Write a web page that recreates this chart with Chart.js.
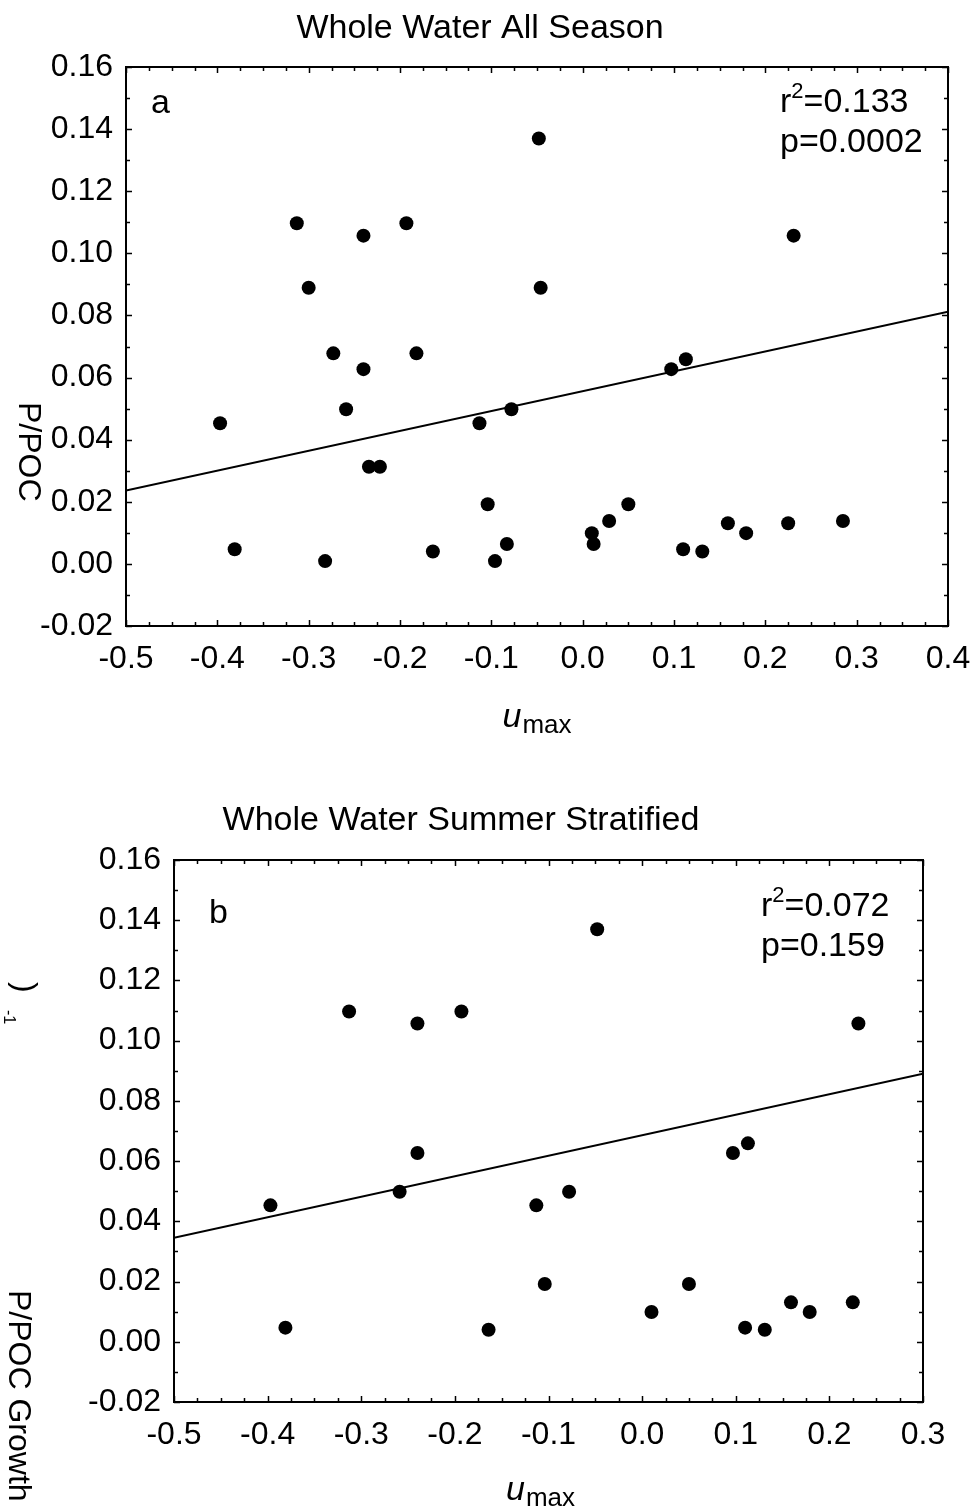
<!DOCTYPE html>
<html>
<head>
<meta charset="utf-8">
<script src="https://cdn.jsdelivr.net/npm/chart.js@4/dist/chart.umd.min.js"></script>
<style>
  html, body { margin: 0; padding: 0; background: #fff; }
  #wrap { width: 975px; height: 1510px; position: relative; overflow: hidden; background: #fff; }
  canvas { position: absolute; left: 0; }
</style>
</head>
<body>
<div id="wrap">
  <canvas id="panelA" width="975" height="755" style="top:0"></canvas>
  <canvas id="panelB" width="975" height="755" style="top:755px"></canvas>
</div>
<script>
// ---- Panel a: whole water column, all seasons ----
const umaxAll = [-0.397, -0.381, -0.313, -0.300, -0.282, -0.273, -0.259, -0.240, -0.240, -0.234,
                 -0.222, -0.193, -0.182, -0.164, -0.113, -0.104, -0.096, -0.083, -0.078, -0.048,
                 -0.046, 0.010, 0.012, 0.029, 0.050, 0.097, 0.110, 0.113, 0.131, 0.159,
                 0.179, 0.225, 0.231, 0.285];
const ppocAll = [0.0453, 0.0047, 0.1097, 0.0889, 0.0009, 0.0678, 0.0498, 0.1057, 0.0627, 0.0313,
                 0.0313, 0.1097, 0.0678, 0.0040, 0.0453, 0.0192, 0.0009, 0.0064, 0.0498, 0.1370,
                 0.0889, 0.0099, 0.0064, 0.0138, 0.0192, 0.0627, 0.0047, 0.0659, 0.0040, 0.0131,
                 0.0099, 0.0131, 0.1057, 0.0138];
const fitAllX = [-0.5, 0.4];
const fitAllY = [0.0236, 0.0812];
const xTicksAll = [-0.5, -0.4, -0.3, -0.2, -0.1, 0.0, 0.1, 0.2, 0.3, 0.4];
const xLabelsAll = ['-0.5', '-0.4', '-0.3', '-0.2', '-0.1', '0.0', '0.1', '0.2', '0.3', '0.4'];

// ---- Panel b: whole water column, summer stratified ----
const umaxSummer = [-0.397, -0.381, -0.313, -0.259, -0.240, -0.240, -0.193, -0.164, -0.113, -0.104,
                    -0.078, -0.048, 0.010, 0.050, 0.097, 0.110, 0.113, 0.131, 0.159, 0.179,
                    0.225, 0.231];
const ppocSummer = [0.0453, 0.0047, 0.1097, 0.0498, 0.1057, 0.0627, 0.1097, 0.0040, 0.0453, 0.0192,
                    0.0498, 0.1370, 0.0099, 0.0192, 0.0627, 0.0047, 0.0659, 0.0040, 0.0131, 0.0099,
                    0.0131, 0.1057];
const fitSummerX = [-0.5, 0.3];
const fitSummerY = [0.0345, 0.0890];
const xTicksSummer = [-0.5, -0.4, -0.3, -0.2, -0.1, 0.0, 0.1, 0.2, 0.3];
const xLabelsSummer = ['-0.5', '-0.4', '-0.3', '-0.2', '-0.1', '0.0', '0.1', '0.2', '0.3'];

// shared y axis
const yTicks = [-0.02, 0.00, 0.02, 0.04, 0.06, 0.08, 0.10, 0.12, 0.14, 0.16];
const yLabels = ['-0.02', '0.00', '0.02', '0.04', '0.06', '0.08', '0.10', '0.12', '0.14', '0.16'];

const FONT = "'Liberation Sans', Arial, Helvetica, sans-serif";

function toPoints(xs, ys) { return xs.map((x, i) => ({ x: x, y: ys[i] })); }

// fixed axis box size; label overhang is absorbed by the layout padding
function fixBox(s, w, h) {
  if (w !== null) s.width = w;
  if (h !== null) s.height = h;
  s.paddingLeft = 0; s.paddingRight = 0; s.paddingTop = 0; s.paddingBottom = 0;
}

// Frame, inward tick marks and all free text of a panel
const panelDecor = {
  id: 'panelDecor',
  afterDraw(chart, args, o) {
    const ctx = chart.ctx;
    const a = chart.chartArea;
    const xs = chart.scales.x, ys = chart.scales.y;
    ctx.save();
    ctx.strokeStyle = '#000';
    ctx.fillStyle = '#000';

    // inward ticks on all four sides
    ctx.lineWidth = 1.5;
    ctx.beginPath();
    const nx = Math.round((o.xMax - o.xMin) / o.xMinor);
    for (let k = 0; k <= nx; k++) {
      const v = o.xMin + k * o.xMinor;
      const len = (k % o.xMajorEvery === 0) ? 6 : 4;
      const px = Math.round(xs.getPixelForValue(v)) + 0.5;
      ctx.moveTo(px, a.bottom); ctx.lineTo(px, a.bottom - len);
      ctx.moveTo(px, a.top); ctx.lineTo(px, a.top + len);
    }
    const ny = Math.round((o.yMax - o.yMin) / o.yMinor);
    for (let k = 0; k <= ny; k++) {
      const v = o.yMin + k * o.yMinor;
      const len = (k % o.yMajorEvery === 0) ? 6 : 4;
      const py = Math.round(ys.getPixelForValue(v)) + 0.5;
      ctx.moveTo(a.left, py); ctx.lineTo(a.left + len, py);
      ctx.moveTo(a.right, py); ctx.lineTo(a.right - len, py);
    }
    ctx.stroke();

    // plot frame
    ctx.lineWidth = 2;
    ctx.strokeRect(a.left, a.top, a.right - a.left, a.bottom - a.top);

    // title
    ctx.textBaseline = 'alphabetic';
    ctx.textAlign = 'center';
    ctx.font = '34px ' + FONT;
    ctx.fillText(o.title, o.titleX, o.titleY);

    // panel letter
    ctx.textAlign = 'left';
    ctx.fillText(o.letter, o.letterX, o.letterY);

    // r-squared with superscript 2
    let x = o.statX;
    ctx.fillText('r', x, o.r2Y);
    x += ctx.measureText('r').width;
    ctx.font = '22px ' + FONT;
    ctx.fillText('2', x, o.r2Y - 14);
    x += ctx.measureText('2').width;
    ctx.font = '34px ' + FONT;
    ctx.fillText('=' + o.r2, x, o.r2Y);
    ctx.fillText('p=' + o.p, o.statX, o.pY);

    // x axis title: italic u with subscript "max"
    ctx.font = 'italic 34px ' + FONT;
    const wu = ctx.measureText('u').width;
    ctx.font = '26px ' + FONT;
    const wm = ctx.measureText('max').width;
    const cx = (a.left + a.right) / 2 + o.xTitleShift;
    let sx = cx - (wu + 1 + wm) / 2;
    ctx.font = 'italic 34px ' + FONT;
    ctx.fillText('u', sx, o.xTitleY);
    ctx.font = '26px ' + FONT;
    ctx.fillText('max', sx + wu + 1, o.xTitleY + 6);

    // y axis title pieces, rotated clockwise
    o.yTitle.forEach(t => {
      ctx.save();
      ctx.translate(t.x, t.y);
      ctx.rotate(Math.PI / 2);
      ctx.font = t.size + 'px ' + FONT;
      ctx.textAlign = 'left';
      ctx.textBaseline = 'middle';
      ctx.fillText(t.text, 0, 0);
      ctx.restore();
    });
    ctx.restore();
  }
};

function makePanel(id, xs, ys, fx, fy, xTicks, xLabels, xMax, geom, decor) {
  return new Chart(document.getElementById(id), {
    type: 'scatter',
    data: {
      datasets: [
        {
          type: 'line',
          data: toPoints(fx, fy),
          borderColor: '#000',
          borderWidth: 2,
          pointRadius: 0,
          fill: false,
          tension: 0,
          order: 2
        },
        {
          data: toPoints(xs, ys),
          backgroundColor: '#000',
          borderColor: '#000',
          borderWidth: 0,
          pointRadius: 7,
          pointHoverRadius: 7,
          order: 1
        }
      ]
    },
    options: {
      responsive: false,
      animation: false,
      devicePixelRatio: 1,
      events: [],
      layout: { padding: { left: 0, top: geom.top, right: geom.right, bottom: 0 } },
      plugins: { legend: { display: false }, tooltip: { enabled: false }, title: { display: false }, panelDecor: decor },
      scales: {
        x: {
          type: 'linear', min: -0.5, max: xMax,
          afterBuildTicks: s => { s.ticks = xTicks.map(v => ({ value: v })); },
          afterFit: s => fixBox(s, null, geom.xAxisH),
          grid: { display: false, drawTicks: false },
          border: { display: false },
          ticks: {
            callback: (v, i) => xLabels[i],
            color: '#000', font: { family: FONT, size: 32 },
            padding: 14, maxRotation: 0, autoSkip: false
          }
        },
        y: {
          type: 'linear', min: -0.02, max: 0.16,
          afterBuildTicks: s => { s.ticks = yTicks.map(v => ({ value: v })); },
          afterFit: s => fixBox(s, geom.yAxisW, null),
          grid: { display: false, drawTicks: false },
          border: { display: false },
          ticks: {
            callback: (v, i) => yLabels[i],
            color: '#000', font: { family: FONT, size: 32 },
            padding: 13, autoSkip: false
          }
        }
      }
    },
    plugins: [panelDecor]
  });
}

makePanel('panelA', umaxAll, ppocAll, fitAllX, fitAllY, xTicksAll, xLabelsAll, 0.4,
  { top: 67, right: 27, xAxisH: 129, yAxisW: 126 },
  {
    title: 'Whole Water All Season', titleX: 480, titleY: 38,
    letter: 'a', letterX: 151, letterY: 113,
    statX: 780, r2: '0.133', r2Y: 112, p: '0.0002', pY: 152,
    xTitleY: 727, xTitleShift: 0,
    xMin: -0.5, xMax: 0.4, xMinor: 0.025, xMajorEvery: 4,
    yMin: -0.02, yMax: 0.16, yMinor: 0.01, yMajorEvery: 2,
    yTitle: [{ text: 'P/POC', x: 28, y: 402, size: 32 }]
  });

makePanel('panelB', umaxSummer, ppocSummer, fitSummerX, fitSummerY, xTicksSummer, xLabelsSummer, 0.3,
  { top: 105, right: 52, xAxisH: 108, yAxisW: 174 },
  {
    title: 'Whole Water Summer Stratified', titleX: 461, titleY: 75,
    letter: 'b', letterX: 209, letterY: 168,
    statX: 761, r2: '0.072', r2Y: 161, p: '0.159', pY: 201,
    xTitleY: 745, xTitleShift: -8,
    xMin: -0.5, xMax: 0.3, xMinor: 0.025, xMajorEvery: 4,
    yMin: -0.02, yMax: 0.16, yMinor: 0.01, yMajorEvery: 2,
    yTitle: [
      { text: ')', x: 24, y: 227, size: 32 },
      { text: '-1', x: 8, y: 255, size: 16 },
      { text: 'P/POC Growth', x: 18, y: 535, size: 32 }
    ]
  });
</script>
</body>
</html>
